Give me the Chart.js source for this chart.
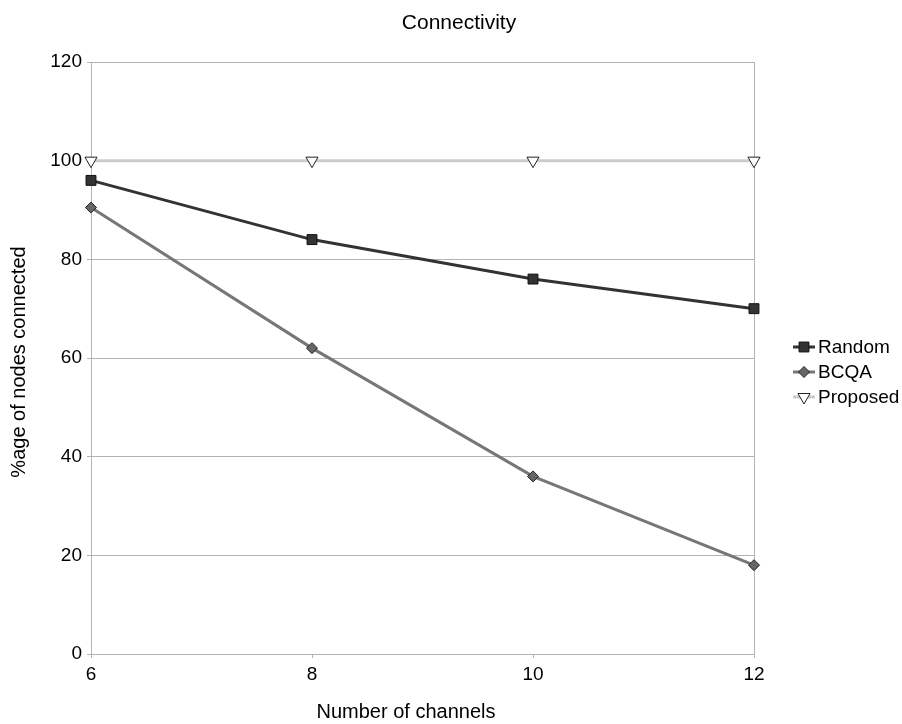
<!DOCTYPE html>
<html>
<head>
<meta charset="utf-8">
<title>Connectivity</title>
<script src="https://cdn.jsdelivr.net/npm/chart.js@4/dist/chart.umd.min.js"></script>
<style>
  html, body { margin: 0; padding: 0; background: #fff; }
  #wrap { width: 902px; height: 724px; position: relative; }
</style>
</head>
<body>
<div id="wrap"><canvas id="conn"></canvas></div>
<script>
// number of channels on the x axis
const channels    = [6, 8, 10, 12];
// %age of nodes connected per scheme
const randomPct   = [96, 84, 76, 70];
const bcqaPct     = [90.5, 62, 36, 18];
const proposedPct = [100, 100, 100, 100];

const seriesNames = ['Random', 'BCQA', 'Proposed'];
const yTicks      = [0, 20, 40, 60, 80, 100, 120];

const chartTitle = 'Connectivity';
const xTitle     = 'Number of channels';
const yTitle     = '%age of nodes connected';

const FONT = 'Liberation Sans, Arial, sans-serif';
const GRID = '#b3b3b3';

const toPoints = vals => channels.map((c, i) => ({ x: c, y: vals[i] }));

// title, axis titles and the legend on the right
const decorations = {
  id: 'decorations',
  afterDraw(chart) {
    const { ctx, chartArea } = chart;
    ctx.save();
    ctx.fillStyle = '#000';
    ctx.textAlign = 'center';
    ctx.textBaseline = 'middle';

    ctx.font = '21px ' + FONT;
    ctx.fillText(chartTitle, 459, 23);

    ctx.font = '20px ' + FONT;
    ctx.fillText(xTitle, 406, 712);

    ctx.save();
    ctx.translate(19, 362);
    ctx.rotate(-Math.PI / 2);
    ctx.fillText(yTitle, 0, 0);
    ctx.restore();

    const x0 = chartArea.right + 39;
    let y = 347;
    chart.data.datasets.forEach(ds => {
      ctx.strokeStyle = ds.borderColor;
      ctx.lineWidth = ds.borderWidth;
      ctx.beginPath();
      ctx.moveTo(x0, y);
      ctx.lineTo(x0 + 22, y);
      ctx.stroke();

      ctx.fillStyle = ds.pointBackgroundColor;
      ctx.strokeStyle = ds.pointBorderColor;
      ctx.lineWidth = ds.pointBorderWidth;
      Chart.helpers.drawPoint(ctx, {
        pointStyle: ds.pointStyle,
        rotation: ds.pointRotation || 0,
        radius: ds.pointRadius,
        borderWidth: ds.pointBorderWidth
      }, x0 + 11, y);

      ctx.fillStyle = '#000';
      ctx.font = '19px ' + FONT;
      ctx.textAlign = 'left';
      ctx.fillText(ds.label, x0 + 25, y + 1);
      y += 25;
    });
    ctx.restore();
  }
};

new Chart(document.getElementById('conn'), {
  type: 'line',
  data: {
    datasets: [
      {
        label: seriesNames[0], data: toPoints(randomPct),
        borderColor: '#333333', borderWidth: 3,
        pointStyle: 'rect', pointRadius: 7,
        pointBackgroundColor: '#333333', pointBorderColor: '#111111', pointBorderWidth: 1,
        clip: false
      },
      {
        label: seriesNames[1], data: toPoints(bcqaPct),
        borderColor: '#777777', borderWidth: 3,
        pointStyle: 'rectRot', pointRadius: 5.5,
        pointBackgroundColor: '#666666', pointBorderColor: '#222222', pointBorderWidth: 1,
        clip: false
      },
      {
        label: seriesNames[2], data: toPoints(proposedPct),
        borderColor: '#cccccc', borderWidth: 3,
        pointStyle: 'triangle', pointRotation: 180, pointRadius: 7,
        pointBackgroundColor: '#ffffff', pointBorderColor: '#222222', pointBorderWidth: 1,
        clip: false
      }
    ]
  },
  options: {
    responsive: true,
    maintainAspectRatio: false,
    animation: false,
    layout: { padding: { top: 62, right: 148 } },
    elements: { line: { tension: 0 } },
    plugins: {
      legend: { display: false },
      tooltip: { enabled: false },
      title: { display: false }
    },
    scales: {
      x: {
        type: 'linear', min: 6, max: 12,
        afterFit: s => { s.height = 70; },
        ticks: {
          stepSize: 2, padding: 5, color: '#000',
          font: { family: FONT, size: 19 }
        },
        grid: {
          color: c => (c.tick && (c.tick.value === 6 || c.tick.value === 12)) ? GRID : 'rgba(0,0,0,0)',
          tickColor: GRID, tickLength: 4, lineWidth: 1
        },
        border: { color: GRID }
      },
      y: {
        min: 0, max: 120,
        afterFit: s => { s.width = 91; },
        afterBuildTicks: s => { s.ticks = yTicks.map(v => ({ value: v })); },
        ticks: {
          padding: 5, color: '#000',
          font: { family: FONT, size: 19 }
        },
        grid: { color: GRID, tickColor: GRID, tickLength: 4, lineWidth: 1 },
        border: { color: GRID }
      }
    }
  },
  plugins: [decorations]
});
</script>
</body>
</html>
